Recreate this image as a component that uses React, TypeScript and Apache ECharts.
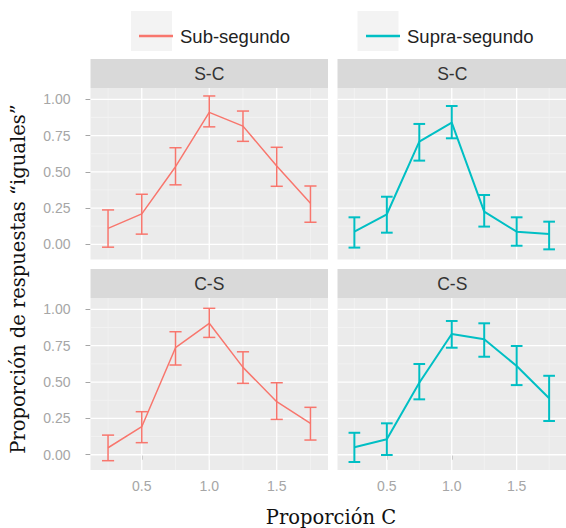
import React, { useEffect, useRef } from "react";
import * as echarts from "echarts";

// ---------- data ----------
const xValues = [0.25, 0.5, 0.75, 1.0, 1.25, 1.5, 1.75];
const seriesNames = ["Sub-segundo", "Supra-segundo"];
const facetNames = ["S-C", "C-S"];

// Sub-segundo, S-C
const subSC = [0.11, 0.21, 0.535, 0.91, 0.815, 0.54, 0.283];
const subSCLow = [-0.02, 0.07, 0.41, 0.81, 0.71, 0.4, 0.152];
const subSCHigh = [0.237, 0.345, 0.666, 1.023, 0.919, 0.669, 0.402];
// Supra-segundo, S-C
const supraSC = [0.087, 0.207, 0.708, 0.839, 0.225, 0.087, 0.071];
const supraSCLow = [-0.023, 0.08, 0.577, 0.731, 0.122, -0.01, -0.035];
const supraSCHigh = [0.186, 0.328, 0.83, 0.954, 0.34, 0.186, 0.156];
// Sub-segundo, C-S
const subCS = [0.048, 0.193, 0.736, 0.904, 0.601, 0.365, 0.216];
const subCSLow = [-0.041, 0.083, 0.617, 0.807, 0.491, 0.243, 0.101];
const subCSHigh = [0.135, 0.296, 0.846, 1.007, 0.708, 0.495, 0.326];
// Supra-segundo, C-S
const supraCS = [0.051, 0.106, 0.495, 0.83, 0.794, 0.61, 0.388];
const supraCSLow = [-0.05, -0.002, 0.381, 0.736, 0.674, 0.479, 0.232];
const supraCSHigh = [0.151, 0.216, 0.624, 0.92, 0.904, 0.748, 0.543];

const yTicks = [0, 0.25, 0.5, 0.75, 1.0];
const yMinor = [0.125, 0.375, 0.625, 0.875];
const xTicks = [0.5, 1.0, 1.5];
const xMinor = [0.25, 0.75, 1.25, 1.75];

const yTitle = "Proporción de respuestas “iguales”";
const xTitle = "Proporción C";

// ---------- styles ----------
const COLORS = ["#F8766D", "#00BFC4"];
const LINE_W = [1.5, 2];
const PANEL_BG = "#EBEBEB";
const STRIP_BG = "#D9D9D9";
const MINOR_C = "#F4F4F4";
const TICK_C = "#A6A6A6";
const SANS = "'Liberation Sans', Arial, Helvetica, sans-serif";
const SERIF = "'DejaVu Serif', serif";
const ERR_W = 0.09;

const X_MIN = 0.12, X_MAX = 1.88, Y_MIN = -0.105, Y_MAX = 1.078;

const panels = [
  { facet: 0, ser: 0, left: 90.5, top: 88, w: 237.5, h: 171.5, mean: subSC, lo: subSCLow, hi: subSCHigh },
  { facet: 0, ser: 1, left: 337.5, top: 88, w: 237.5, h: 171.5, mean: supraSC, lo: supraSCLow, hi: supraSCHigh },
  { facet: 1, ser: 0, left: 90.5, top: 298, w: 237.5, h: 172, mean: subCS, lo: subCSLow, hi: subCSHigh },
  { facet: 1, ser: 1, left: 337.5, top: 298, w: 237.5, h: 172, mean: supraCS, lo: supraCSLow, hi: supraCSHigh },
];
const STRIP_H = 29;

export default function App() {
  const ref = useRef<HTMLDivElement>(null);
  useEffect(() => {
    if (!ref.current) return;
    const chart = echarts.init(ref.current, undefined, { renderer: "svg" });

    const grid: any[] = [];
    const xAxis: any[] = [];
    const yAxis: any[] = [];
    const series: any[] = [];
    const graphic: any[] = [];

    panels.forEach((p, i) => {
      const isLeft = i % 2 === 0;
      const isBottom = i >= 2;
      grid.push({
        left: p.left, top: p.top, width: p.w, height: p.h,
        show: true, backgroundColor: PANEL_BG, borderWidth: 0,
      });
      xAxis.push({
        type: "value", gridIndex: i, min: X_MIN, max: X_MAX,
        axisLine: { show: false },
        splitLine: { show: false },
        axisTick: { show: isBottom, customValues: xTicks, length: 5, lineStyle: { color: TICK_C, width: 1 } },
        axisLabel: {
          show: isBottom, customValues: xTicks, margin: 9,
          formatter: (v: number) => v.toFixed(1),
          color: TICK_C, fontSize: 14, fontFamily: SANS,
        },
      });
      yAxis.push({
        type: "value", gridIndex: i, min: Y_MIN, max: Y_MAX,
        axisLine: { show: false },
        splitLine: { show: false },
        axisTick: { show: isLeft, customValues: yTicks, length: 5, lineStyle: { color: TICK_C, width: 1 } },
        axisLabel: {
          show: isLeft, customValues: yTicks, margin: 20,
          formatter: (v: number) => v.toFixed(2),
          color: TICK_C, fontSize: 14, fontFamily: SANS,
        },
      });
      // grid lines
      series.push({
        type: "custom", xAxisIndex: i, yAxisIndex: i, z: 1, silent: true,
        data: [[1, 0.5]],
        renderItem: (params: any, api: any) => {
          const cs = params.coordSys;
          const children: any[] = [];
          const hLine = (v: number, major: boolean) => {
            const y = api.coord([1, v])[1];
            children.push({
              type: "line",
              shape: { x1: cs.x, y1: y, x2: cs.x + cs.width, y2: y },
              style: { stroke: major ? "#FFFFFF" : MINOR_C, lineWidth: major ? 1.3 : 0.8 },
            });
          };
          const vLine = (v: number, major: boolean) => {
            const x = api.coord([v, 0.5])[0];
            children.push({
              type: "line",
              shape: { x1: x, y1: cs.y, x2: x, y2: cs.y + cs.height },
              style: { stroke: major ? "#FFFFFF" : MINOR_C, lineWidth: major ? 1.3 : 0.8 },
            });
          };
          yMinor.forEach((v) => hLine(v, false));
          xMinor.forEach((v) => vLine(v, false));
          yTicks.forEach((v) => hLine(v, true));
          xTicks.forEach((v) => vLine(v, true));
          return { type: "group", children };
        },
      });
      // line
      series.push({
        type: "line", name: seriesNames[p.ser], xAxisIndex: i, yAxisIndex: i, z: 3,
        data: xValues.map((x, k) => [x, p.mean[k]]),
        symbol: "none", color: COLORS[p.ser],
        itemStyle: { color: COLORS[p.ser] },
        lineStyle: { color: COLORS[p.ser], width: LINE_W[p.ser] },
      });
      // error bars
      series.push({
        type: "custom", name: seriesNames[p.ser], xAxisIndex: i, yAxisIndex: i, z: 3,
        data: xValues.map((x, k) => [x, p.lo[k], p.hi[k]]),
        encode: { x: 0, y: [1, 2] },
        renderItem: (params: any, api: any) => {
          const x = api.value(0);
          const lo = api.coord([x, api.value(1)]);
          const hi = api.coord([x, api.value(2)]);
          const half = api.size([ERR_W, 0])[0] / 2;
          const style = { stroke: COLORS[p.ser], lineWidth: LINE_W[p.ser] };
          return {
            type: "group",
            children: [
              { type: "line", shape: { x1: lo[0], y1: lo[1], x2: hi[0], y2: hi[1] }, style },
              { type: "line", shape: { x1: hi[0] - half, y1: hi[1], x2: hi[0] + half, y2: hi[1] }, style },
              { type: "line", shape: { x1: lo[0] - half, y1: lo[1], x2: lo[0] + half, y2: lo[1] }, style },
            ],
          };
        },
      });
      // strip
      graphic.push({
        type: "rect", silent: true,
        shape: { x: p.left, y: p.top - STRIP_H, width: p.w, height: STRIP_H },
        style: { fill: STRIP_BG },
      });
      graphic.push({
        type: "text", silent: true,
        x: p.left + p.w / 2 - (i % 2 === 1 ? 4 : 0), y: p.top - STRIP_H / 2 + 0.5,
        style: {
          text: facetNames[p.facet], fill: "#333333", fontSize: 17.5, fontFamily: SANS,
          align: "center", verticalAlign: "middle",
        },
      });
    });

    // legend key backgrounds
    const keyBoxes = [131, 357.5];
    keyBoxes.forEach((kx) => {
      graphic.push({
        type: "rect", silent: true, z: -1,
        shape: { x: kx, y: 11, width: 41, height: 40 },
        style: { fill: "#F3F3F3" },
      });
    });
    // axis titles
    graphic.push({
      type: "text", silent: true, x: 18, y: 279, rotation: Math.PI / 2,
      style: {
        text: yTitle, fill: "#111111", fontSize: 19.5, fontFamily: SERIF,
        align: "center", verticalAlign: "middle",
      },
    });
    graphic.push({
      type: "text", silent: true, x: 331, y: 517,
      style: {
        text: xTitle, fill: "#111111", fontSize: 19.5, fontFamily: SERIF,
        align: "center", verticalAlign: "middle",
      },
    });

    const legendCommon = {
      orient: "horizontal", top: 21, icon: "rect", itemWidth: 34, itemHeight: 2.5,
      selectedMode: false,
      textStyle: { fontSize: 18.5, fontFamily: SANS, color: "#222222", padding: [0, 0, 0, 2], lineHeight: 20 },
    };

    chart.setOption({
      animation: false,
      backgroundColor: "#FFFFFF",
      legend: [
        { ...legendCommon, left: 134, data: [seriesNames[0]] },
        { ...legendCommon, left: 361, data: [seriesNames[1]] },
      ],
      grid, xAxis, yAxis, series, graphic,
    });
    return () => chart.dispose();
  }, []);

  return (
    <div
      ref={ref}
      style={{ position: "absolute", left: 0, top: 0, width: 566, height: 528 }}
    />
  );
}
